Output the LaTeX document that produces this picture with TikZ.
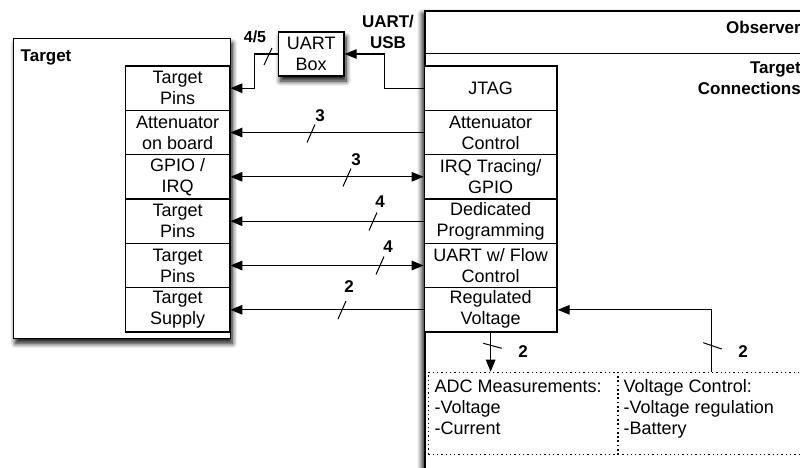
\documentclass[tikz,border=0pt]{standalone}
\usepackage{fontspec}
\setmainfont{Liberation Sans}
\usetikzlibrary{arrows.meta,shadows.blur}

\begin{document}
\begin{tikzpicture}[x=1pt,y=-1pt,
  every node/.style={font=\fontsize{18}{21}\selectfont},
  lbl/.style={font=\fontsize{17}{21}\selectfont\bfseries, inner sep=0pt},
  num/.style={font=\fontsize{17}{19}\selectfont\bfseries, inner sep=0pt},
  soft/.style={blur shadow={shadow xshift=2pt, shadow yshift=-5pt, shadow blur radius=5pt, shadow opacity=95, shadow blur steps=8}},
  softleft/.style={blur shadow={shadow xshift=-3pt, shadow yshift=-3pt, shadow blur radius=5pt, shadow opacity=95, shadow blur steps=8}},
  outer/.style={draw, line width=1.3pt, fill=white, inner sep=0pt},
  cell/.style={draw, line width=1.3pt, fill=white, align=center, inner sep=0pt, minimum height=44.33pt},
  tcell/.style={cell, minimum width=104pt},
  ocell/.style={cell, minimum width=132.7pt},
  wire/.style={line width=1.3pt},
  arr/.style={wire, -{Triangle[length=12pt,width=9.5pt]}},
  darr/.style={wire, {Triangle[length=12pt,width=9.5pt]}-{Triangle[length=12pt,width=9.5pt]}},
  busmark/.style={line width=1pt},
  dots/.style={draw, line width=1.3pt, dash pattern=on 1.3pt off 3pt},
  note/.style={align=left, inner sep=0pt, anchor=north west}
]
\useasboundingbox (0,0) rectangle (800,467);
\clip (0,0) rectangle (800,467);

% ---------- Observer board ----------
\node[outer, softleft, line width=1.6pt, minimum width=400pt, minimum height=480pt, anchor=north west] (obs) at (424.3,10) {};
\draw[wire] (obs.north west |- 0,53.3) -- (obs.north east |- 0,53.3);
\node[lbl, anchor=base east] (obslbl) at (801,33.5) {Observer};
\node[lbl, align=right, anchor=north east] (tconn) at (801,62) {Target\\Connections};

\node[ocell] (jtag) at (490.65,88.2)  {JTAG};
\node[ocell] (attc) at (490.65,132.5) {Attenuator\\Control};
\node[ocell] (irq)  at (490.65,176.8) {IRQ Tracing/\\GPIO};
\node[ocell] (prog) at (490.65,221.2) {Dedicated\\Programming};
\node[ocell] (uartfc) at (490.65,265.5) {UART w/ Flow\\Control};
\node[ocell] (regv) at (490.65,309.8) {Regulated\\Voltage};

% dotted measurement / control area
\node[dots, minimum width=189.6pt, minimum height=82.3pt, anchor=north west, inner sep=0pt] (adc) at (427.7,371.7) {};
\node[dots, minimum width=200pt, minimum height=82.3pt, anchor=north west, inner sep=0pt] (vctl) at (617.3,371.7) {};
\node[note] (adctxt) at (434.5,379.5) {ADC Measurements:\\-Voltage\\-Current};
\node[note] (vctltxt) at (623.5,379.5) {Voltage Control:\\-Voltage regulation\\-Battery};

% ---------- Target board ----------
\node[outer, soft, minimum width=217pt, minimum height=300pt, anchor=north west] (target) at (12.7,37.7) {};
\node[lbl, anchor=base west] (targetlbl) at (20.5,61.5) {Target};

\node[tcell] (tpins) at (177.7,88.2)  {Target\\Pins};
\node[tcell] (att)   at (177.7,132.5) {Attenuator\\on board};
\node[tcell] (gpio)  at (177.7,176.8) {GPIO /\\IRQ};
\node[tcell] (tpinsb) at (177.7,221.2) {Target\\Pins};
\node[tcell] (tpinsc) at (177.7,265.5) {Target\\Pins};
\node[tcell] (tsup)  at (177.7,309.8) {Target\\Supply};

% ---------- UART box ----------
\node[outer, soft, minimum width=65.7pt, minimum height=44pt, align=center] (uart) at (311.2,54) {UART\\Box};
\node[lbl, align=center] (usb) at (388,31.5) {UART/\\USB};
\node[num, font=\fontsize{16}{19}\selectfont\bfseries] (n45) at (255,36.7) {4/5};

% ---------- connectors ----------
\draw[arr] (jtag.west) -- ++(-39.3,0) |- (uart.east);
\draw[arr] (uart.west) -- ++(-23.5,0) |- (tpins.east);
\draw[busmark] (264,65) -- (272,48);

\draw[arr]  (attc.west) -- (att.east);
\draw[darr] (irq.west) -- (gpio.east);
\draw[arr]  (prog.west) -- (tpinsb.east);
\draw[darr] (uartfc.west) -- (tpinsc.east);
\draw[arr]  (regv.west) -- (tsup.east);

% bus widths
\draw[busmark] (307,142.5) -- (315,124.5);
\node[num] (n3a) at (320,115.5) {3};
\draw[busmark] (343,186.5) -- (351,168.5);
\node[num] (n3b) at (356,160) {3};
\draw[busmark] (369,230.5) -- (377,212.5);
\node[num] (n4a) at (380,201.7) {4};
\draw[busmark] (376,274.5) -- (384,256.5);
\node[num] (n4b) at (388,246.7) {4};
\draw[busmark] (338,319) -- (346,301);
\node[num] (n2a) at (349,287) {2};

% measurement and supply control lines
\coordinate (vtop) at (711.7,371.7);
\draw[arr] (regv.south) -- (regv.south |- adc.north);
\draw[busmark] (483.3,343.3) -- (501.7,348.3);
\node[num] (n2b) at (523,352) {2};
\draw[arr] (vtop) |- (regv.east);
\draw[busmark] (703.3,342.7) -- (721.7,349);
\node[num] (n2c) at (743,352) {2};
\end{tikzpicture}
\end{document}
